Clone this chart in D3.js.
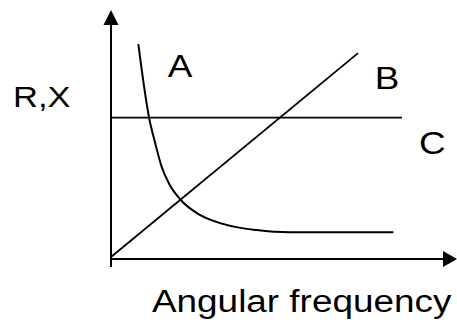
<!DOCTYPE html>
<html>
<head>
<meta charset="utf-8">
<script src="https://cdn.jsdelivr.net/npm/d3@7"></script>
<style>
  body { margin: 0; background: #fff; }
  text { font-family: "Liberation Sans", Arial, sans-serif; fill: #000; }
</style>
</head>
<body>
<div id="chart-area"></div>
<script>
// curve A : falls steeply, then levels off
var curveAx = [7.9, 11.0, 12.8, 14.6, 17.0, 20.1, 25.7, 32.3, 42.1, 51.7, 81.6];
var curveAy = [86.3, 56.8, 46.4, 37.2, 29.7, 23.8, 17.7, 14.1, 11.6, 10.7, 10.7];

// line B : rises straight from the origin
var lineBx = [0, 71.4];
var lineBy = [0.8, 82.7];

// line C : constant
var lineCx = [0, 84.1];
var lineCy = [56.8, 56.8];

var labels = ["A", "B", "C"];
var yLabel = "R,X";
var xLabel = "Angular frequency";

var W = 457, H = 324;

var svg = d3.select("#chart-area")
    .append("svg")
    .attr("width", W)
    .attr("height", H);

// origin of the axes sits at (111, 259)
var x = d3.scaleLinear().domain([0, 100]).range([111, 457]);
var y = d3.scaleLinear().domain([0, 100]).range([259, 10]);

var line = d3.line()
    .x(function(d) { return x(d[0]); })
    .y(function(d) { return y(d[1]); });

// axes
svg.append("path")
    .attr("d", line([[0, -3.2], [0, 94]]))
    .attr("stroke", "#000").attr("stroke-width", 2).attr("fill", "none");
svg.append("path")
    .attr("d", line([[0, 0], [96, 0]]))
    .attr("stroke", "#000").attr("stroke-width", 2).attr("fill", "none");

// arrow heads
svg.append("path")
    .attr("d", "M" + x(0) + "," + y(100) + "L" + (x(0) - 7.5) + "," + (y(100) + 15) +
               "L" + (x(0) + 7.5) + "," + (y(100) + 15) + "Z")
    .attr("fill", "#000");
svg.append("path")
    .attr("d", "M" + x(100) + "," + y(0) + "L" + (x(100) - 14) + "," + (y(0) - 8) +
               "L" + (x(100) - 14) + "," + (y(0) + 8) + "Z")
    .attr("fill", "#000");

// line C
svg.append("path")
    .datum(d3.zip(lineCx, lineCy))
    .attr("d", line)
    .attr("stroke", "#000").attr("stroke-width", 1.8).attr("fill", "none");

// line B
svg.append("path")
    .datum(d3.zip(lineBx, lineBy))
    .attr("d", line)
    .attr("stroke", "#000").attr("stroke-width", 1.8).attr("fill", "none");

// curve A
svg.append("path")
    .datum(d3.zip(curveAx, curveAy))
    .attr("d", line.curve(d3.curveMonotoneX))
    .attr("stroke", "#000").attr("stroke-width", 2).attr("fill", "none");

// the lettering in the picture is a bit wider than plain Arial
var stretch = 1.19;

// letters next to the curves
var labelPos = [[16.4, 73.1], [76.2, 68.3], [89.0, 42.0]];
svg.selectAll(".curve-label")
    .data(labels)
    .enter()
    .append("text")
    .attr("class", "curve-label")
    .attr("transform", function(d, i) {
      return "translate(" + x(labelPos[i][0]) + "," + y(labelPos[i][1]) + ") scale(" + stretch + ",1)";
    })
    .attr("font-size", 31)
    .text(function(d) { return d; });

svg.append("text")
    .attr("transform", "translate(13,107) scale(" + stretch + ",1)")
    .attr("font-size", 29)
    .text(yLabel);

svg.append("text")
    .attr("transform", "translate(152,312) scale(" + stretch + ",1)")
    .attr("font-size", 31)
    .text(xLabel);
</script>
</body>
</html>
